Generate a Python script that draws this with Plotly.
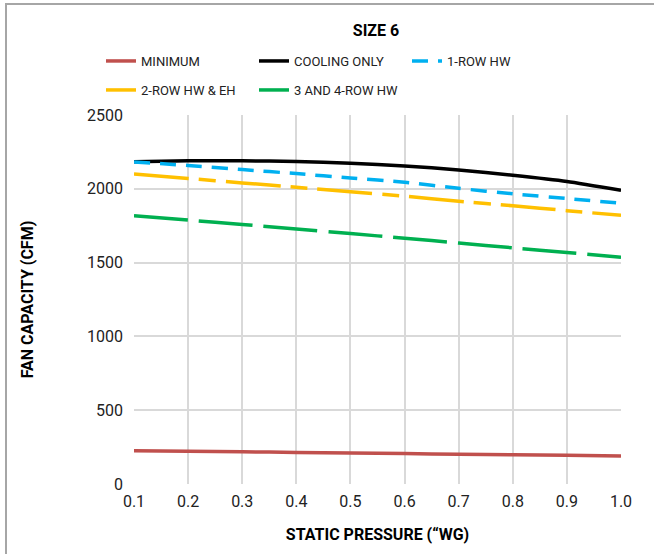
import plotly.graph_objects as go

pressure = [0.1, 0.2, 0.3, 0.4, 0.5, 0.6, 0.7, 0.8, 0.9, 1.0]
minimum = [226, 222, 218, 214, 210, 206, 202, 198, 194, 190]
cooling_only = [2184, 2190, 2190, 2185, 2173, 2155, 2128, 2092, 2050, 1990]
row1_hw = [2182, 2158, 2130, 2103, 2073, 2044, 2003, 1966, 1934, 1902]
row2_hw_eh = [2100, 2070, 2040, 2010, 1980, 1950, 1915, 1885, 1852, 1820]
row34_hw = [1818, 1788, 1758, 1728, 1697, 1665, 1633, 1600, 1568, 1537]

names = ["MINIMUM", "COOLING ONLY", "1-ROW HW", "2-ROW HW &amp; EH", "3 AND 4-ROW HW"]
series = [minimum, cooling_only, row1_hw, row2_hw_eh, row34_hw]
colors = ["#c0504d", "#000000", "#00b0f0", "#ffc000", "#00b050"]
dashes = ["solid", "solid", "16px,10px", "55px,10px,17px,10px", "54px,11px"]
legend_ids = ["legend", "legend", "legend", "legend2", "legend2"]

FONT = "Roboto, 'Liberation Sans Narrow', 'DejaVu Sans Condensed', sans-serif"

fig = go.Figure()
for n, s, c, d, lg in zip(names, series, colors, dashes, legend_ids):
    fig.add_trace(go.Scatter(x=pressure, y=s, name=n, mode="lines", legend=lg,
                             line=dict(color=c, width=3.5, dash=d, shape="spline", smoothing=0.6)))

L, R, T, B = 134, 33, 115, 70
W, H = 654, 554
pw, ph = W - L - R, H - T - B

leg_common = dict(orientation="h", xanchor="left", yanchor="middle",
                  entrywidth=108, entrywidthmode="pixels",
                  font=dict(size=13, color="#222222"), itemwidth=30,
                  bgcolor="rgba(0,0,0,0)")

fig.update_layout(
    width=W, height=H,
    margin=dict(l=L, r=R, t=T, b=B),
    paper_bgcolor="white", plot_bgcolor="white",
    font=dict(family=FONT, size=16, color="#222222"),
    title=dict(text="<b>SIZE 6</b>", x=(376 - L) / pw, xref="paper", xanchor="center",
               y=1 - 30 / H, yanchor="middle", font=dict(size=16, color="#000000")),
    legend=dict(x=(101 - L) / pw, y=(H - B - 61) / ph, **leg_common),
    legend2=dict(x=(101 - L) / pw, y=(H - B - 90) / ph, **leg_common),
    showlegend=True,
    xaxis=dict(range=[0.1, 1.0], tickvals=pressure, ticktext=[f"{v:.1f}" for v in pressure],
               showgrid=True, gridcolor="#d9d9d9", gridwidth=1.5, zeroline=False,
               showline=False, ticks="", ticklabelstandoff=6,
               title=dict(text="<b>STATIC PRESSURE (\u201cWG)</b>", font=dict(size=16, color="#000000"), standoff=18)),
    yaxis=dict(range=[0, 2500], tickvals=[0, 500, 1000, 1500, 2000, 2500],
               showgrid=True, gridcolor="#d9d9d9", gridwidth=1.5, zeroline=False,
               showline=False, ticks="", ticklabelstandoff=10,
               title=dict(text="<b>FAN CAPACITY (CFM)</b>", font=dict(size=16, color="#000000"), standoff=49)),
    shapes=[dict(type="rect", xref="paper", yref="paper",
                 x0=(6 - L) / pw, x1=(800 - L) / pw, y0=(H - 800 - B) / ph, y1=(H - 4 - B) / ph,
                 line=dict(color="#a6a6a6", width=2), fillcolor="rgba(0,0,0,0)", layer="below")],
)

fig.write_html("out.html", config={"displayModeBar": False},
               post_script="document.body.style.margin='0';")
